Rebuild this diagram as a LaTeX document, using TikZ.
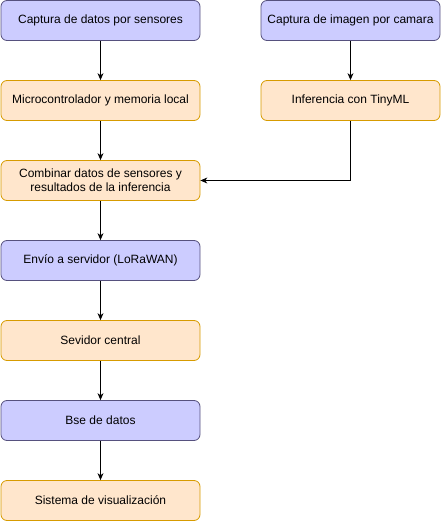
\documentclass[tikz,border=0pt]{standalone}
\usepackage{fontspec}
\setmainfont{Liberation Sans}
\usetikzlibrary{arrows.meta}
\definecolor{pfill}{HTML}{CCCCFF}
\definecolor{pdraw}{HTML}{56517E}
\definecolor{ofill}{HTML}{FFE6CC}
\definecolor{odraw}{HTML}{D79B00}
\begin{document}
\begin{tikzpicture}[x=1pt,y=-1pt,
  box/.style={rounded corners=6pt, line width=0.8pt, minimum height=40pt, inner sep=0pt, align=center, font=\fontsize{12pt}{14pt}\selectfont},
  pbox/.style={box, fill=pfill, draw=pdraw},
  obox/.style={box, fill=ofill, draw=odraw},
  conn/.style={line width=0.8pt, -{Stealth[length=7pt,width=6pt]}}]
\useasboundingbox (0,0) rectangle (441,521);
\node[pbox, minimum width=199pt] (a) at (100.5,20.5) {Captura de datos por sensores};
\node[pbox, minimum width=179pt] (b) at (350.5,20.5) {Captura de imagen por camara};
\node[obox, minimum width=199pt] (c) at (100.5,100.5) {Microcontrolador y memoria local};
\node[obox, minimum width=179pt] (d) at (350.5,100.5) {Inferencia con TinyML};
\node[obox, minimum width=199pt] (e) at (100.5,180.5) {Combinar datos de sensores y\\resultados de la inferencia};
\node[pbox, minimum width=199pt] (f) at (100.5,260.5) {Envío a servidor (LoRaWAN)};
\node[obox, minimum width=199pt] (g) at (100.5,340.5) {Sevidor central};
\node[pbox, minimum width=199pt] (h) at (100.5,420.5) {Bse de datos};
\node[obox, minimum width=199pt] (i) at (100.5,500.5) {Sistema de visualización};
\draw[conn] (a) -- (c);
\draw[conn] (b) -- (d);
\draw[conn] (c) -- (e);
\draw[conn] (d.south) |- (e.east);
\draw[conn] (e) -- (f);
\draw[conn] (f) -- (g);
\draw[conn] (g) -- (h);
\draw[conn] (h) -- (i);
\end{tikzpicture}
\end{document}
